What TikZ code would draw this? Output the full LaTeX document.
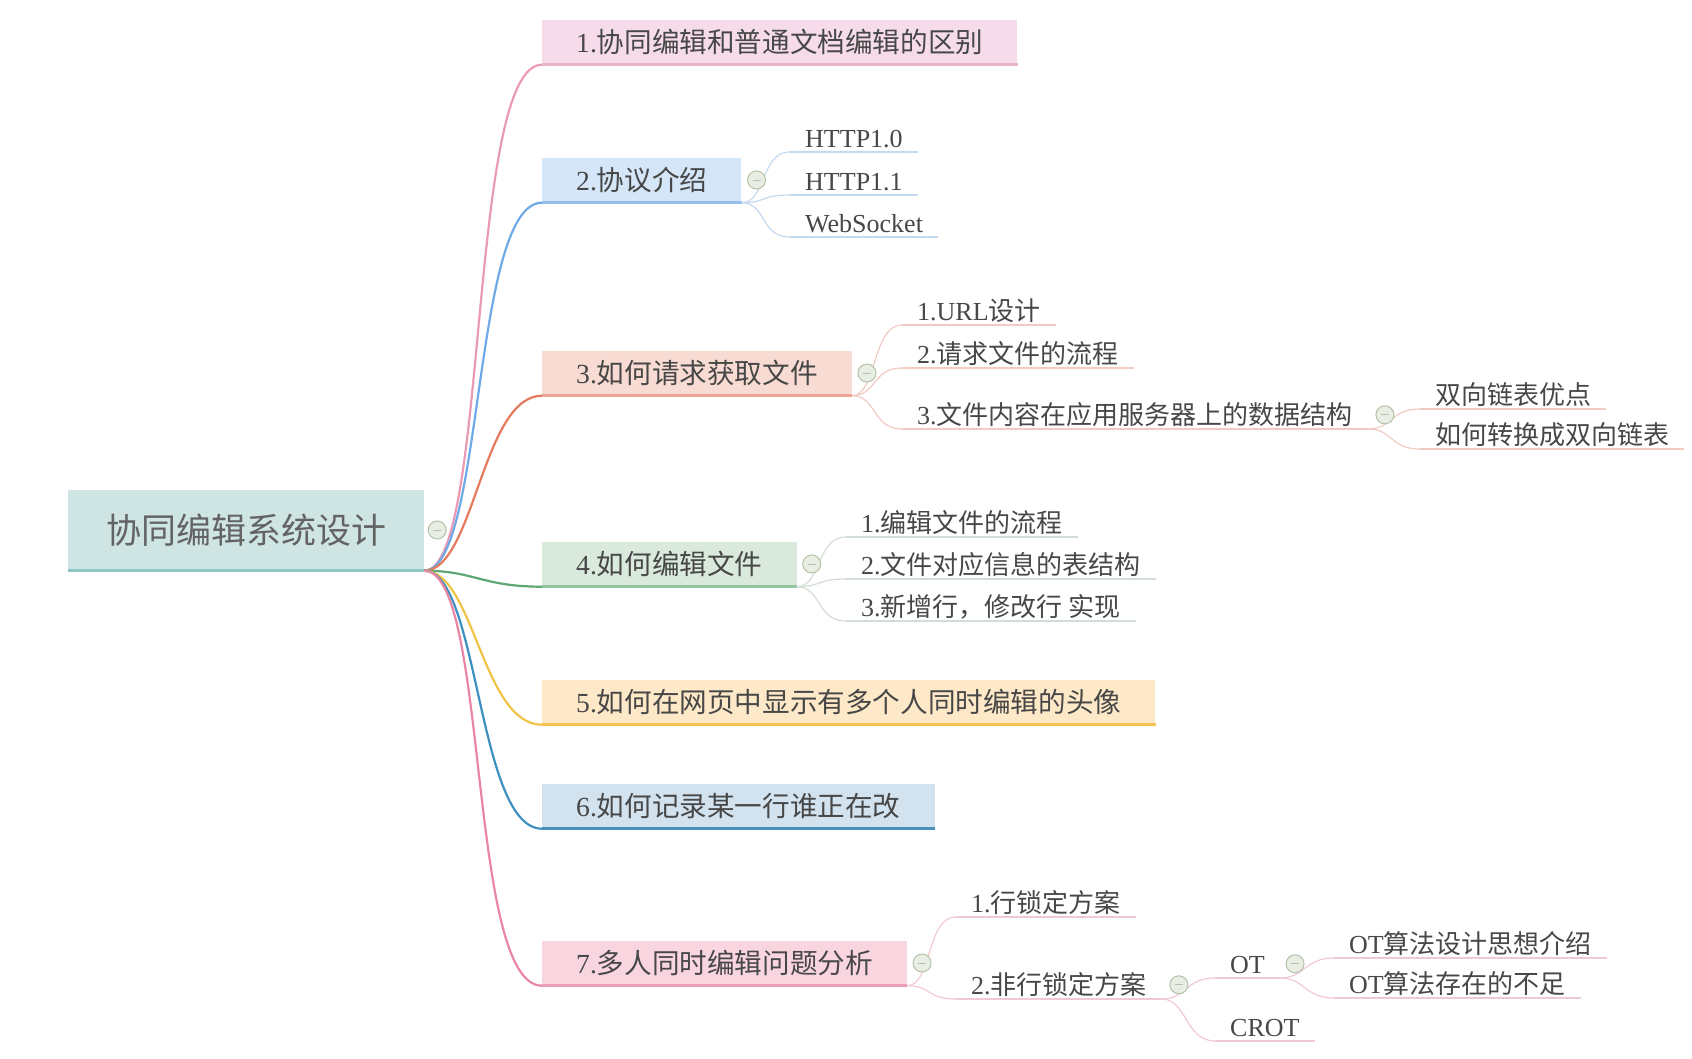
\documentclass[tikz,border=0pt]{standalone}
\usepackage{fontspec}
\setmainfont{Liberation Serif}
\newfontfamily\cjk{Noto Sans CJK SC}
\usepackage{tikz}
\newcommand{\zh}[1]{{\cjk #1}}
\definecolor{txt}{HTML}{474747}
\definecolor{rootfill}{HTML}{CFE5E4}
\definecolor{rootbar}{HTML}{8CC5C3}
\definecolor{fillA}{HTML}{F6DCEA}
\definecolor{barA}{HTML}{E9B6CC}
\definecolor{lineA}{HTML}{E99AB5}
\definecolor{fillB}{HTML}{D4E6F8}
\definecolor{barB}{HTML}{93BFE9}
\definecolor{lineB}{HTML}{6FA9E6}
\definecolor{twigB}{HTML}{C5D9EE}
\definecolor{fillC}{HTML}{F8DCD3}
\definecolor{barC}{HTML}{EEA593}
\definecolor{lineC}{HTML}{E57A5E}
\definecolor{twigC}{HTML}{F1CBC3}
\definecolor{fillD}{HTML}{D9EADD}
\definecolor{barD}{HTML}{93C59F}
\definecolor{lineD}{HTML}{5EA674}
\definecolor{twigD}{HTML}{D2DDD4}
\definecolor{fillE}{HTML}{FDE8C8}
\definecolor{barE}{HTML}{F4C152}
\definecolor{lineE}{HTML}{F0C346}
\definecolor{fillF}{HTML}{D2E2EF}
\definecolor{barF}{HTML}{4B8FB6}
\definecolor{lineF}{HTML}{3D90BF}
\definecolor{fillG}{HTML}{F8D5DF}
\definecolor{barG}{HTML}{EE9DB6}
\definecolor{lineG}{HTML}{EA86A5}
\definecolor{twigG}{HTML}{F0C9D5}
\definecolor{foldline}{HTML}{B4C2A8}
\definecolor{foldfill}{HTML}{E9EEE4}
\tikzset{
    root/.style={fill=rootfill, minimum width=356pt, minimum height=81pt, inner sep=0pt,
        text=txt!85, font=\cjk\fontsize{35}{40}\selectfont},
    topic/.style={fill=#1, anchor=west, minimum height=45pt, inner xsep=34pt, inner ysep=0pt,
        text=txt, font=\fontsize{27.6}{30}\selectfont, text height=22pt, text depth=2pt},
    leaf/.style={anchor=south west, inner xsep=15pt, inner ysep=2pt,
        text=txt, font=\fontsize{26}{30}\selectfont, text height=22pt, text depth=2pt},
    bar/.style={line width=3pt},
    branch/.style={line width=2.2pt},
    twig/.style={line width=1.2pt},
    fold/.style={circle, draw=foldline, fill=foldfill, line width=1pt, minimum size=18pt, inner sep=0pt,
        path picture={\draw[foldline, line width=1pt]
            ([xshift=-4pt]path picture bounding box.center) -- ([xshift=4pt]path picture bounding box.center);}}
}

\begin{document}
\begin{tikzpicture}[x=1pt, y=-1pt]
    \useasboundingbox (0,0) rectangle (1692,1058);

    \node[root] (r) at (246,530) {协同编辑系统设计};
    \draw[bar, rootbar] (r.south west) -- (r.south east);

    \node[topic=fillA] (t1) at (542,42) {1.\zh{协同编辑和普通文档编辑的区别}};
    \node[topic=fillB] (t2) at (542,180) {2.\zh{协议介绍}};
    \node[topic=fillC] (t3) at (542,373) {3.\zh{如何请求获取文件}};
    \node[topic=fillD] (t4) at (542,564) {4.\zh{如何编辑文件}};
    \node[topic=fillE] (t5) at (542,702) {5.\zh{如何在网页中显示有多个人同时编辑的头像}};
    \node[topic=fillF] (t6) at (542,806) {6.\zh{如何记录某一行谁正在改}};
    \node[topic=fillG] (t7) at (542,963) {7.\zh{多人同时编辑问题分析}};

    \draw[bar, barA] (t1.south west) -- (t1.south east);
    \draw[bar, barB] (t2.south west) -- (t2.south east);
    \draw[bar, barC] (t3.south west) -- (t3.south east);
    \draw[bar, barD] (t4.south west) -- (t4.south east);
    \draw[bar, barE] (t5.south west) -- (t5.south east);
    \draw[bar, barF] (t6.south west) -- (t6.south east);
    \draw[bar, barG] (t7.south west) -- (t7.south east);

    \draw[branch, lineA] (r.south east) .. controls +(65,0) and +(-75,0) .. (t1.south west);
    \draw[branch, lineB] (r.south east) .. controls +(60,0) and +(-70,0) .. (t2.south west);
    \draw[branch, lineC] (r.south east) .. controls +(50,0) and +(-60,0) .. (t3.south west);
    \draw[branch, lineD] (r.south east) .. controls +(50,0) and +(-60,0) .. (t4.south west);
    \draw[branch, lineE] (r.south east) .. controls +(50,0) and +(-60,0) .. (t5.south west);
    \draw[branch, lineF] (r.south east) .. controls +(55,0) and +(-65,0) .. (t6.south west);
    \draw[branch, lineG] (r.south east) .. controls +(65,0) and +(-75,0) .. (t7.south west);

    \node[leaf] (h10) at (790,152) {HTTP1.0};
    \node[leaf] (h11) at (790,195) {HTTP1.1};
    \node[leaf] (ws) at (790,237) {WebSocket};

    \node[leaf] (url) at (902,325) {1.URL\zh{设计}};
    \node[leaf] (req) at (902,368) {2.\zh{请求文件的流程}};
    \node[leaf] (data) at (902,429) {3.\zh{文件内容在应用服务器上的数据结构}};
    \node[leaf] (adv) at (1420,409) {\zh{双向链表优点}};
    \node[leaf] (conv) at (1420,449) {\zh{如何转换成双向链表}};

    \node[leaf] (edit) at (846,537) {1.\zh{编辑文件的流程}};
    \node[leaf] (tab) at (846,579) {2.\zh{文件对应信息的表结构}};
    \node[leaf] (row) at (846,621) {3.\zh{新增行，修改行 实现}};

    \node[leaf] (lock) at (956,917) {1.\zh{行锁定方案}};
    \node[leaf] (nolock) at (956,999) {2.\zh{非行锁定方案}};
    \node[leaf] (ot) at (1215,978) {OT};
    \node[leaf] (crot) at (1215,1041) {CROT};
    \node[leaf] (otidea) at (1334,958) {OT\zh{算法设计思想介绍}};
    \node[leaf] (otlack) at (1334,998) {OT\zh{算法存在的不足}};

    \draw[twig, twigB] (h10.south west) -- (h10.south east);
    \draw[twig, twigB] (h11.south west) -- (h11.south east);
    \draw[twig, twigB] (ws.south west) -- (ws.south east);
    \draw[twig, twigB] (t2.south east) .. controls +(25,0) and +(-30,0) .. (h10.south west);
    \draw[twig, twigB] (t2.south east) .. controls +(25,0) and +(-30,0) .. (h11.south west);
    \draw[twig, twigB] (t2.south east) .. controls +(25,0) and +(-30,0) .. (ws.south west);

    \draw[twig, twigC] (url.south west) -- (url.south east);
    \draw[twig, twigC] (req.south west) -- (req.south east);
    \draw[twig, twigC] (data.south west) -- (data.south east);
    \draw[twig, twigC] (adv.south west) -- (adv.south east);
    \draw[twig, twigC] (conv.south west) -- (conv.south east);
    \draw[twig, twigC] (t3.south east) .. controls +(25,0) and +(-30,0) .. (url.south west);
    \draw[twig, twigC] (t3.south east) .. controls +(25,0) and +(-30,0) .. (req.south west);
    \draw[twig, twigC] (t3.south east) .. controls +(25,0) and +(-30,0) .. (data.south west);
    \draw[twig, twigC] (data.south east) .. controls +(25,0) and +(-30,0) .. (adv.south west);
    \draw[twig, twigC] (data.south east) .. controls +(25,0) and +(-30,0) .. (conv.south west);

    \draw[twig, twigD] (edit.south west) -- (edit.south east);
    \draw[twig, twigD] (tab.south west) -- (tab.south east);
    \draw[twig, twigD] (row.south west) -- (row.south east);
    \draw[twig, twigD] (t4.south east) .. controls +(25,0) and +(-30,0) .. (edit.south west);
    \draw[twig, twigD] (t4.south east) .. controls +(25,0) and +(-30,0) .. (tab.south west);
    \draw[twig, twigD] (t4.south east) .. controls +(25,0) and +(-30,0) .. (row.south west);

    \draw[twig, twigG] (lock.south west) -- (lock.south east);
    \draw[twig, twigG] (nolock.south west) -- (nolock.south east);
    \draw[twig, twigG] (ot.south west) -- (ot.south east);
    \draw[twig, twigG] (crot.south west) -- (crot.south east);
    \draw[twig, twigG] (otidea.south west) -- (otidea.south east);
    \draw[twig, twigG] (otlack.south west) -- (otlack.south east);
    \draw[twig, twigG] (t7.south east) .. controls +(25,0) and +(-30,0) .. (lock.south west);
    \draw[twig, twigG] (t7.south east) .. controls +(25,0) and +(-30,0) .. (nolock.south west);
    \draw[twig, twigG] (nolock.south east) .. controls +(25,0) and +(-30,0) .. (ot.south west);
    \draw[twig, twigG] (nolock.south east) .. controls +(25,0) and +(-30,0) .. (crot.south west);
    \draw[twig, twigG] (ot.south east) .. controls +(25,0) and +(-30,0) .. (otidea.south west);
    \draw[twig, twigG] (ot.south east) .. controls +(25,0) and +(-30,0) .. (otlack.south west);

    \node[fold] (fr) at ([xshift=13pt]r.east) {};
    \node[fold] (f2) at ([xshift=15pt]t2.east) {};
    \node[fold] (f3) at ([xshift=15pt]t3.east) {};
    \node[fold] (f4) at ([xshift=15pt]t4.east) {};
    \node[fold] (f7) at ([xshift=15pt]t7.east) {};
    \node[fold] (fdata) at ([xshift=17pt]data.east) {};
    \node[fold] (fnolock) at ([xshift=17pt]nolock.east) {};
    \node[fold] (fot) at ([xshift=15pt]ot.east) {};
\end{tikzpicture}
\end{document}
